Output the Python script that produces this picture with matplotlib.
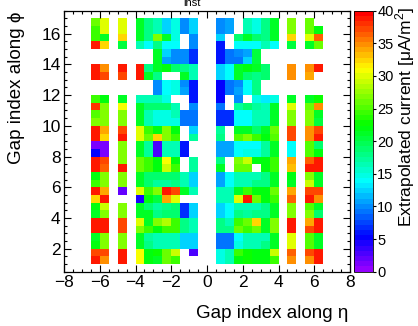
# -*- coding: utf-8 -*-

import colorsys

import matplotlib
matplotlib.use('Agg')
import matplotlib.pyplot as plt
import numpy as np

from matplotlib.colors import ListedColormap
from matplotlib.ticker import MultipleLocator


plt.rcParams['font.family'] = ['Liberation Sans', 'DejaVu Sans']
plt.rcParams['font.size'] = 12.5
plt.rcParams['mathtext.fontset'] = 'custom'
plt.rcParams['mathtext.rm'] = 'Liberation Sans'

nan = np.nan

# lower edges of the filled eta bins (bin width 0.5)
eta_bins = [-6.5, -6.0, -5.0, -4.0, -3.5, -3.0, -2.5, -2.0, -1.5, -1.0,
            0.5, 1.0, 1.5, 2.0, 2.5, 3.0, 3.5, 4.5, 5.5, 6.0]

# upper edge of the first phi row, rows go down in steps of 0.5
phi_top = 17.0

# extrapolated current per cell [uA/m2], one row per phi bin, top row first
current = [
    [26, 30, 30, 21, 18, 16, 12, 15, 10, 12, 10, 11, nan, 16, 15, 18, 21, 27, 26, nan],
    [24, 30, 30, 21, 18, 16, 12, 15, 10, 12, 10, 11, nan, 16, 15, 18, 21, 27, 26, 22],
    [24, 21, 32, 21, 18, 27, 21, 15, nan, 10, 12, nan, 19, 21, 19, 18, 21, 32, 30, 36],
    [39, 32, 20, 16, 14, 18, 14, 14, nan, 10, 6, nan, 14, 14, 14, 16, 14, 20, 21, 26],
    [nan, nan, nan, nan, nan, 21, 12, 10, 10, 7, 6, 9, 10, 11, 20, nan, nan, nan, nan, nan],
    [nan, nan, nan, nan, nan, 21, 11, 10, 10, 7, 6, 9, 9, 12, 20, nan, nan, nan, nan, nan],
    [39, 35, 39, 39, 18, 21, 22, 19, 18, 16, 12, 14, 21, 22, 21, 19, nan, 35, 35, 39],
    [39, 37, 37, 39, 21, 18, nan, nan, 21, 16, 12, 14, 21, 19, 18, 19, nan, 35, 34, nan],
    [nan, nan, nan, nan, nan, 10, 14, 15, 10, 6, 5, 9, 10, 14, 18, nan, nan, nan, nan, nan],
    [nan, nan, nan, nan, nan, 10, 14, 15, 11, 6, 5, 9, 11, 14, 18, nan, nan, nan, nan, nan],
    [24, 22, 21, 16, 16, 16, 15, nan, nan, 6, 5, nan, 10, nan, 15, 13, 15, 21, 21, 23],
    [38, 27, 31, 21, 19, 19, 19, 16, nan, 10, 9, nan, 17, 19, 17, 16, 21, 30, 26, 35],
    [25, 27, 27, 21, 16, 15, 15, 16, 9, 9, 7, 7, 14, 14, 16, 16, 21, 27, 27, 21],
    [27, 27, 27, 21, 16, 15, 15, 15, 9, 9, 7, 7, 14, 14, 16, 16, 21, 27, 27, 20],
    [39, 34, 37, 30, 24, 22, 27, 22, nan, 12, 17, nan, 21, 21, 19, 21, 26, 37, 35, 37],
    [39, 32, 39, 30, 26, 32, 27, 24, nan, 17, 18, nan, 25, 27, 24, 22, 25, 37, 35, 39],
    [1, 1, 27, 21, 17, 3, 16, 16, 6, nan, 11, 11, 14, 14, 14, 17, 21, 14, 25, 19],
    [5, 1, 27, 21, 17, 3, 16, 16, 6, nan, 11, 11, 14, 15, 15, 17, 21, 14, 25, 22],
    [39, 37, 27, 26, 24, 22, 31, 22, nan, 17, 18, nan, 27, 29, 22, 22, 24, 34, 36, 39],
    [39, 36, 39, 26, 24, 22, 29, 24, nan, 17, 21, nan, 26, 26, nan, 22, 24, 33, 39, 39],
    [22, 27, 27, 21, 19, 19, 19, 19, 16, 12, 11, 14, 16, 16, 16, 18, 21, 22, 27, 21],
    [24, 27, 27, 21, 19, 17, 17, 18, 16, 12, 11, 14, 16, 16, 18, 18, 21, 21, 29, 21],
    [39, 34, 2, 30, 24, 27, 39, 37, 21, 16, 16, 16, 21, 24, 22, 22, 26, 34, 37, 37],
    [32, 39, nan, 4, 22, 20, 34, 30, nan, nan, 16, 16, 30, 39, 26, 22, 24, 36, 39, 35],
    [22, 29, 27, 21, 19, 17, 18, 19, 7, 12, 12, 14, 16, 16, 16, 18, 21, 27, 25, 21],
    [21, 27, 27, 21, 21, 18, 19, 19, 7, 12, 12, 14, 18, 17, 18, 18, 21, 27, 27, 19],
    [39, 39, 37, 30, 21, 27, 28, 24, 18, 16, 18, 16, 24, 26, 32, 21, 27, 39, 34, 39],
    [39, 39, 37, 27, 24, 22, 24, 24, 18, 16, 18, 18, 26, 24, 26, 21, 27, 39, 37, 39],
    [21, 27, 27, 21, 17, 16, 16, 16, 12, 12, 9, 9, 14, 16, 16, 16, 21, 30, 25, 21],
    [22, 27, 27, 21, 18, 16, 16, 16, 12, 12, 9, 9, 15, 16, 16, 18, 21, 30, 25, 21],
    [37, 37, 39, 31, 22, 23, 26, 29, nan, 3, 15, 16, 24, 23, 22, 22, 29, 36, 37, 39],
    [39, 35, 39, 31, 22, 21, 26, 24, nan, nan, 15, 16, 22, 23, 22, 22, 24, 35, 35, 39],
]

z_min, z_max = 0, 40


def pretty_palette(n=50, max_hue=280.0):
    # hue runs from violet down to red at constant lightness/saturation
    colors = []
    for i in range(n):
        hue = max_hue - (i + 1) * max_hue / n
        colors.append(colorsys.hls_to_rgb(hue / 360.0, 0.5, 1.0))
    return ListedColormap(colors)


def style_axis(ax):
    ax.tick_params(which='both', direction='in', top=True, right=True,
                   width=0.8, color='black')
    ax.tick_params(which='major', length=5, pad=2.5)
    ax.tick_params(which='minor', length=2.5)
    for spine in ax.spines.values():
        spine.set_linewidth(0.9)


def main():
    step = 0.5
    x_edges = np.arange(-8.0, 8.0 + step / 2, step)
    y_edges = np.arange(1.0, phi_top + step / 2, step)

    grid = np.full((len(y_edges) - 1, len(x_edges) - 1), np.nan)
    data = np.array(current, dtype=float)
    n_rows = data.shape[0]
    for j, x0 in enumerate(eta_bins):
        col = int(round((x0 - x_edges[0]) / step))
        for i in range(n_rows):
            y0 = phi_top - (i + 1) * step
            row = int(round((y0 - y_edges[0]) / step))
            grid[row, col] = data[i, j]

    cmap = pretty_palette()

    fig = plt.figure(figsize=(4.18, 3.26), dpi=100)
    ax = fig.add_axes([64 / 418, 1 - 271.7 / 326, 286 / 418, 261 / 326])
    cax = fig.add_axes([353.5 / 418, 1 - 271.7 / 326, 19 / 418, 261 / 326])

    mesh = ax.pcolormesh(x_edges, y_edges, grid, cmap=cmap,
                         vmin=z_min, vmax=z_max, shading='flat')

    ax.set_xlim(-8, 8)
    ax.set_ylim(0.5, 17.5)
    ax.xaxis.set_major_locator(MultipleLocator(2))
    ax.xaxis.set_minor_locator(MultipleLocator(0.5))
    ax.yaxis.set_major_locator(MultipleLocator(2))
    ax.yaxis.set_minor_locator(MultipleLocator(0.5))
    ax.set_yticks(np.arange(2, 17, 2))
    ax.set_xticks(np.arange(-8, 9, 2))
    ax.set_xticklabels([str(v).replace('-', '\u2212') for v in range(-8, 9, 2)])
    style_axis(ax)

    cb = fig.colorbar(mesh, cax=cax)
    cb.outline.set_linewidth(0.6)
    cb.set_ticks(np.arange(0, 41, 5))
    cax.tick_params(direction='out', length=2.5, width=0.8, pad=1,
                    labelsize=10.5)

    fig.text(348 / 418, 1 - 313 / 326, 'Gap index along \u03b7',
             ha='right', va='center', fontsize=13.5)
    fig.text(17 / 418, 1 - 12 / 326, 'Gap index along \u03d5',
             ha='center', va='top', rotation=90, fontsize=13.5)
    fig.text(405 / 418, 1 - 7 / 326,
             'Extrapolated current [\u03bcA/m$^{2}$]',
             ha='center', va='top', rotation=90, fontsize=12.5)
    fig.text(183 / 418, 1 - 6.5 / 326, 'inst', ha='left', va='baseline',
             fontsize=8)

    fig.savefig('out.png', dpi=100)


if __name__ == '__main__':
    main()
